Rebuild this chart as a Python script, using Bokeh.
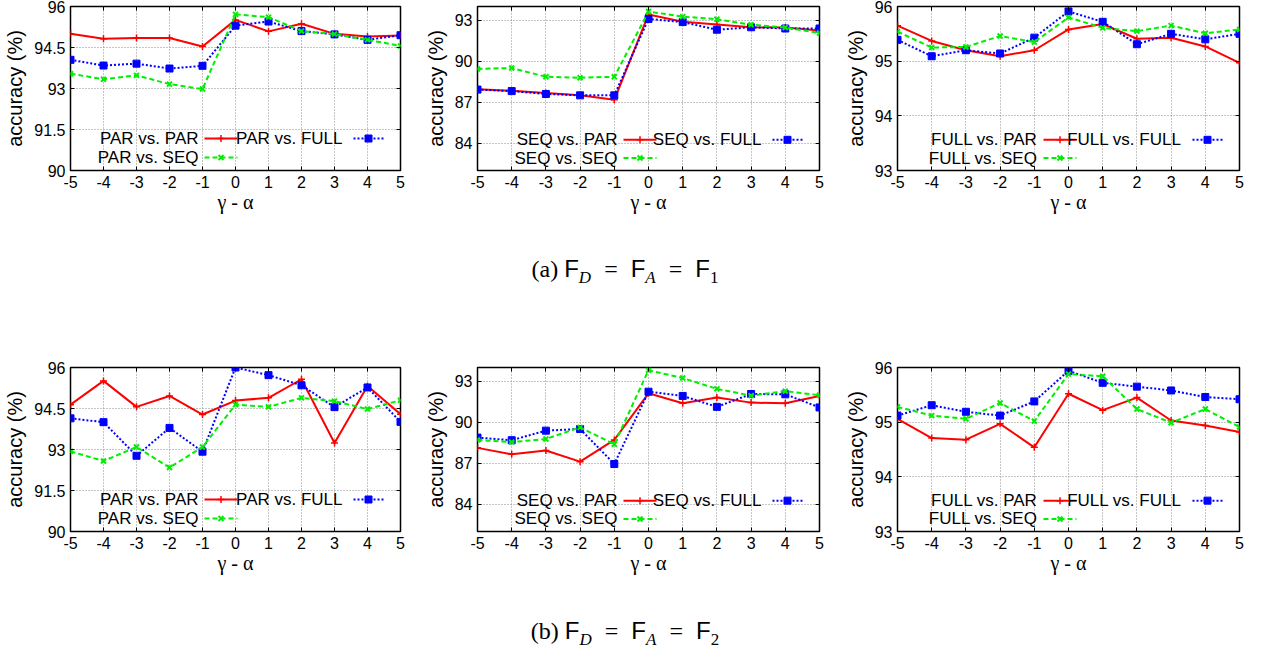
from bokeh.plotting import figure
from bokeh.models import FixedTicker, LinearAxis, Label, Div, Range1d
from bokeh.layouts import row, column
from bokeh.embed import file_html
from bokeh.resources import INLINE

x_vals = [-5, -4, -3, -2, -1, 0, 1, 2, 3, 4, 5]
x_ticks = [-5, -4, -3, -2, -1, 0, 1, 2, 3, 4, 5]

# (a) F_D = F_A = F_1
a_par_vs_par = [95.00, 94.82, 94.85, 94.85, 94.54, 95.51, 95.09, 95.37, 95.00, 94.90, 94.94]
a_par_vs_full = [94.05, 93.84, 93.91, 93.73, 93.83, 95.30, 95.45, 95.10, 94.98, 94.78, 94.95]
a_par_vs_seq = [93.54, 93.34, 93.48, 93.16, 92.98, 95.71, 95.61, 95.10, 94.99, 94.78, 94.56]

a_seq_vs_par = [87.95, 87.83, 87.67, 87.50, 87.17, 93.42, 92.88, 92.69, 92.48, 92.46, 92.25]
a_seq_vs_full = [87.92, 87.81, 87.60, 87.50, 87.50, 93.09, 92.86, 92.30, 92.48, 92.39, 92.39]
a_seq_vs_seq = [89.43, 89.50, 88.86, 88.79, 88.86, 93.63, 93.26, 93.07, 92.67, 92.46, 92.06]

a_full_vs_par = [95.65, 95.37, 95.20, 95.09, 95.20, 95.58, 95.68, 95.41, 95.43, 95.27, 94.97]
a_full_vs_full = [95.39, 95.09, 95.20, 95.14, 95.43, 95.91, 95.72, 95.31, 95.50, 95.40, 95.50]
a_full_vs_seq = [95.54, 95.25, 95.26, 95.46, 95.35, 95.80, 95.61, 95.55, 95.65, 95.51, 95.58]

# (b) F_D = F_A = F_2
b_par_vs_par = [94.64, 95.51, 94.56, 94.96, 94.28, 94.79, 94.89, 95.57, 93.24, 95.32, 94.29]
b_par_vs_full = [94.14, 94.00, 92.77, 93.79, 92.92, 96.00, 95.72, 95.35, 94.55, 95.27, 94.01]
b_par_vs_seq = [92.93, 92.58, 93.09, 92.34, 93.09, 94.64, 94.56, 94.89, 94.77, 94.48, 94.80]

b_seq_vs_par = [88.12, 87.65, 87.93, 87.11, 88.70, 92.11, 91.38, 91.80, 91.43, 91.38, 91.92]
b_seq_vs_full = [88.87, 88.68, 89.38, 89.50, 86.94, 92.23, 91.92, 91.12, 92.06, 92.04, 91.08]
b_seq_vs_seq = [88.70, 88.54, 88.77, 89.62, 88.38, 93.80, 93.23, 92.44, 91.94, 92.27, 91.97]

b_full_vs_par = [95.06, 94.71, 94.68, 94.97, 94.54, 95.52, 95.22, 95.45, 95.03, 94.94, 94.82]
b_full_vs_full = [95.12, 95.31, 95.19, 95.12, 95.38, 95.94, 95.72, 95.65, 95.58, 95.46, 95.42]
b_full_vs_seq = [95.28, 95.12, 95.06, 95.35, 95.02, 95.88, 95.84, 95.24, 94.99, 95.24, 94.91]

# y axis settings per group
y_par = (90, 96)
y_par_ticks = [90, 91.5, 93, 94.5, 96]
y_seq = (82, 94)
y_seq_ticks = [84, 87, 90, 93]
y_full = (93, 96)
y_full_ticks = [93, 94, 95, 96]

x_label = "γ - α"
y_label = "accuracy (%)"

FONT = "Liberation Sans"
RED = "#ff0000"
BLUE = "#0000ff"
GREEN = "#00ee00"

STYLES = {
    "red": dict(color=RED, dash="solid", marker="cross", msize=7, mlw=1.5),
    "blue": dict(color=BLUE, dash="2 2", marker="square", msize=7, mlw=1),
    "green": dict(color=GREEN, dash="5 3", marker="x", msize=7, mlw=2),
}


def fmt(v):
    return ("%g" % v)


def make_panel(series, yr, yticks, width, height, bl, br, bt, bb):
    p = figure(width=width, height=height, x_range=Range1d(-5, 5), y_range=Range1d(*yr),
               output_backend="svg", toolbar_location=None,
               min_border_left=bl, min_border_right=br, min_border_top=bt, min_border_bottom=bb)
    p.background_fill_color = "white"
    p.border_fill_color = "white"
    p.outline_line_color = "black"
    p.outline_line_width = 1.5

    for ax, ticks in ((p.xaxis[0], x_ticks), (p.yaxis[0], yticks)):
        ax.ticker = FixedTicker(ticks=ticks)
        ax.major_tick_in = 4
        ax.major_tick_out = 0
        ax.minor_tick_line_color = None
        ax.axis_line_color = None
        ax.major_tick_line_color = "black"
        ax.major_label_text_font = FONT
        ax.major_label_text_font_size = "16px"
        ax.major_label_text_color = "black"
        ax.major_label_standoff = 5
        ax.axis_label_text_font = FONT
        ax.axis_label_text_font_style = "normal"
        ax.axis_label_text_color = "black"
        ax.major_label_overrides = {t: fmt(t) for t in ticks}
    p.xaxis[0].axis_label = x_label
    p.xaxis[0].axis_label_text_font = "Liberation Serif"
    p.xaxis[0].axis_label_text_font_size = "20px"
    p.xaxis[0].axis_label_standoff = 0
    p.yaxis[0].axis_label = y_label
    p.yaxis[0].axis_label_text_font_size = "20px"
    p.yaxis[0].axis_label_standoff = 5

    # mirrored ticks on top and right
    for side, ticks in (("above", x_ticks), ("right", yticks)):
        ax = LinearAxis(ticker=FixedTicker(ticks=ticks), major_tick_in=4, major_tick_out=0,
                        minor_tick_line_color=None, axis_line_color=None,
                        major_label_text_font_size="0px", major_label_standoff=0,
                        major_label_text_color=None)
        p.add_layout(ax, side)

    for g in (p.xgrid[0], p.ygrid[0]):
        g.grid_line_color = "#8a8a8a"
        g.grid_line_dash = "1 2"
        g.grid_line_width = 1
    p.xgrid[0].ticker = FixedTicker(ticks=x_ticks)
    p.ygrid[0].ticker = FixedTicker(ticks=yticks)

    for label, ys, key in series:
        st = STYLES[key]
        p.line(x_vals, ys, line_color=st["color"], line_width=2, line_dash=st["dash"])
        if st["marker"] == "square":
            p.scatter(x_vals, ys, marker="square", size=st["msize"], fill_color=st["color"],
                      line_color=st["color"])
        else:
            p.scatter(x_vals, ys, marker=st["marker"], size=st["msize"], line_color=st["color"],
                      line_width=st["mlw"])

    # gnuplot-style key: text right-aligned, sample to its right
    fw = width - bl - br
    fh = height - bt - bb
    ppx = 10.0 / fw
    ppy = (yr[1] - yr[0]) / fh
    rows_off = [32, 13]
    slots = [  # (row, label right offset, sample start offset, sample end offset) from right edge
        (0, 202, 196, 163),
        (0, 58, 47, 17),
        (1, 202, 196, 163),
    ]
    for (label, ys, key), (r, lro, s0, s1) in zip(series, slots):
        st = STYLES[key]
        yy = yr[0] + rows_off[r] * ppy
        p.add_layout(Label(x=5 - lro * ppx, y=yy, text=label, text_align="right",
                           text_baseline="middle", text_font=FONT, text_font_size="17px",
                           text_color="black"))
        xs = [5 - s0 * ppx, 5 - s1 * ppx]
        p.line(xs, [yy, yy], line_color=st["color"], line_width=2, line_dash=st["dash"])
        xm = [(xs[0] + xs[1]) / 2]
        if st["marker"] == "square":
            p.scatter(xm, [yy], marker="square", size=st["msize"], fill_color=st["color"],
                      line_color=st["color"])
        else:
            p.scatter(xm, [yy], marker=st["marker"], size=st["msize"], line_color=st["color"],
                      line_width=st["mlw"])
    return p


def series_for(name, vs_par, vs_full, vs_seq):
    return [(f"{name} vs. PAR", vs_par, "red"),
            (f"{name} vs. FULL", vs_full, "blue"),
            (f"{name} vs. SEQ", vs_seq, "green")]


f1 = make_panel(series_for("PAR", a_par_vs_par, a_par_vs_full, a_par_vs_seq),
                y_par, y_par_ticks, 420, 222, 70, 20, 6, 52)
f2 = make_panel(series_for("SEQ", a_seq_vs_par, a_seq_vs_full, a_seq_vs_seq),
                y_seq, y_seq_ticks, 420, 222, 57, 21, 2, 49)
f3 = make_panel(series_for("FULL", a_full_vs_par, a_full_vs_full, a_full_vs_seq),
                y_full, y_full_ticks, 419, 222, 57, 20, 2, 49)

f4 = make_panel(series_for("PAR", b_par_vs_par, b_par_vs_full, b_par_vs_seq),
                y_par, y_par_ticks, 420, 228, 70, 20, 14, 50)
f5 = make_panel(series_for("SEQ", b_seq_vs_par, b_seq_vs_full, b_seq_vs_seq),
                y_seq, y_seq_ticks, 420, 228, 57, 21, 10, 48)
f6 = make_panel(series_for("FULL", b_full_vs_par, b_full_vs_full, b_full_vs_seq),
                y_full, y_full_ticks, 419, 228, 57, 20, 10, 48)


def caption(tag, idx, pad):
    sf = "font-family:'Liberation Sans';"
    eq = "<span style=\"margin:0 13px;\">=</span>"
    sub = "<sub style=\"font-size:17px;\">"
    html = (f"<div style=\"width:1250px;text-align:center;padding-top:{pad}px;"
            f"font-family:'Liberation Serif';font-size:24px;color:black;white-space:nowrap;\">"
            f"({tag})&nbsp;<span style=\"{sf}\">F</span>{sub}<i>D</i></sub>{eq}"
            f"<span style=\"{sf}\">F</span>{sub}<i>A</i></sub>{eq}"
            f"<span style=\"{sf}\">F</span>{sub}{idx}</sub></div>")
    return html


cap_a = Div(text=caption("a", 1, 30), width=1259, height=131, margin=0)
cap_b = Div(text=caption("b", 2, 33), width=1259, height=64, margin=0)

layout = column(row(f1, f2, f3, spacing=0), cap_a, row(f4, f5, f6, spacing=0), cap_b, spacing=0)

open("out.html", "w").write(file_html(layout, INLINE))
